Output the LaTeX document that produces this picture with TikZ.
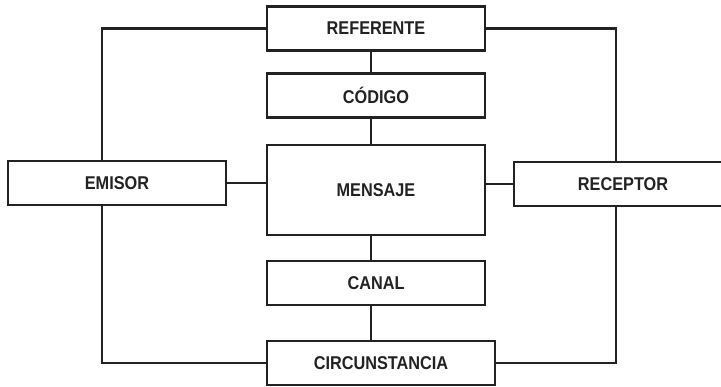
\documentclass[tikz,border=0pt]{standalone}
\usepackage{fontspec}
\setmainfont[FakeStretch=0.88]{Liberation Sans}
\usepackage{tikz}
\usetikzlibrary{positioning}

\definecolor{ink}{HTML}{222222}

\begin{document}
\begin{tikzpicture}[x=1pt, y=1pt, node distance=25pt,
  box/.style={draw=ink, line width=2.2pt, minimum width=218pt, minimum height=44pt,
    inner sep=0pt, outer sep=0pt, text=ink, font=\fontsize{18.5}{20}\selectfont\bfseries},
  wire/.style={draw=ink, line width=2.2pt}]
  \useasboundingbox (0,0) rectangle (721,386);

  \node[box]                              (ref) at (376,357.5) {REFERENTE};
  \node[box, below=23pt of ref]           (cod) {CÓDIGO};
  \node[box, minimum height=90pt, below=27.5pt of cod] (men) {MENSAJE};
  \node[box, below=26pt of men]           (can) {CANAL};
  \node[box, minimum width=228pt, below right=36pt and 0pt of can.south west]
                                          (cir) {CIRCUNSTANCIA};
  \node[box]                              (emi) at (117,203) {EMISOR};
  \node[box]                              (rec) at (623,202) {RECEPTOR};

  % rails
  \coordinate (spine) at (371,0);
  \coordinate (lrail) at (102,0);
  \coordinate (rrail) at (616,0);

  \draw[wire] (ref.south -| spine) -- (cod.north -| spine);
  \draw[wire] (cod.south -| spine) -- (men.north -| spine);
  \draw[wire] (men.south -| spine) -- (can.north -| spine);
  \draw[wire] (can.south -| spine) -- (cir.north -| spine);

  \draw[wire] (emi.east) -- (emi.east -| men.west);
  \draw[wire] (rec.west -| men.east) -- (rec.west);

  \draw[wire] (emi.north -| lrail) |- (ref.west);
  \draw[wire] (emi.south -| lrail) |- (cir.west);
  \draw[wire] (ref.east) -| (rec.north -| rrail);
  \draw[wire] (rec.south -| rrail) |- (cir.east);
\end{tikzpicture}
\end{document}
